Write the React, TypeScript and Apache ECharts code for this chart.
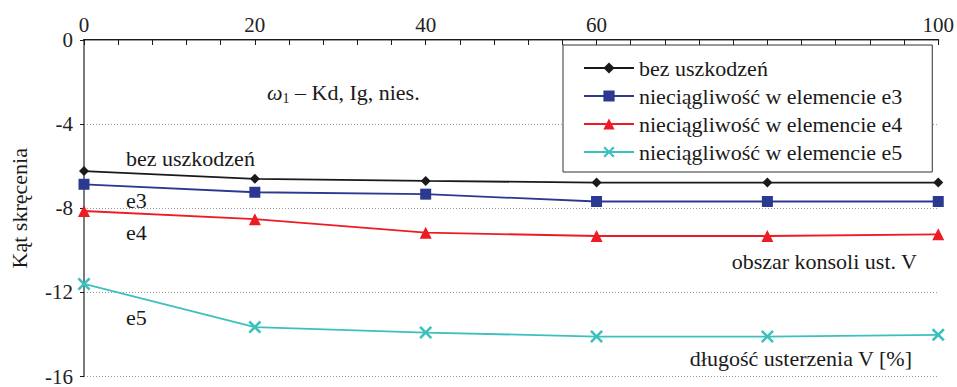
import React, { useEffect, useRef } from "react";
import * as echarts from "echarts";

const xValues = [0, 20, 40, 60, 80, 100];
const xTickLabels = ["0", "20", "40", "60", "", "100"];
const yTicks = [0, -4, -8, -12, -16];
const seriesNames = [
  "bez uszkodzeń",
  "nieciągliwość w elemencie e3",
  "nieciągliwość w elemencie e4",
  "nieciągliwość w elemencie e5",
];
const bezUszkodzen = [-6.23, -6.6, -6.7, -6.78, -6.78, -6.78];
const e3 = [-6.86, -7.24, -7.33, -7.68, -7.68, -7.68];
const e4 = [-8.13, -8.52, -9.16, -9.32, -9.32, -9.24];
const e5 = [-11.6, -13.65, -13.91, -14.1, -14.1, -14.02];

const FONT = "'Liberation Serif', 'DejaVu Serif', serif";
const X_SYMBOL =
  "path://M0,1.4L1.4,0L5,3.6L8.6,0L10,1.4L6.4,5L10,8.6L8.6,10L5,6.4L1.4,10L0,8.6L3.6,5Z";

const txt = (x: number, y: number, text: string, size = 22, align: "left" | "right" = "left") => ({
  type: "text",
  x,
  y,
  style: {
    text,
    fontFamily: FONT,
    fontSize: size,
    fill: "#1a1a1a",
    align,
    verticalAlign: "middle",
  },
});

export default function App() {
  const ref = useRef<HTMLDivElement>(null);
  useEffect(() => {
    if (!ref.current) return;
    const chart = echarts.init(ref.current, undefined, { renderer: "svg" });
    const mk = (vals: number[]) => xValues.map((x, i) => [x, vals[i]]);
    const colors = ["#1a1a1a", "#2b3990", "#ed1c24", "#3cc0bd"];
    const symbols = ["diamond", "rect", "triangle", X_SYMBOL];
    const sizes = [10, 11, 12, 13];
    const datas = [bezUszkodzen, e3, e4, e5];
    chart.setOption({
      animation: false,
      textStyle: { fontFamily: FONT },
      grid: { left: 82, right: 18, top: 40, bottom: 10 },
      legend: {
        orient: "vertical",
        left: 563,
        top: 45,
        padding: [12, 30, 9, 20],
        itemGap: 6,
        itemWidth: 50,
        itemHeight: 14,
        borderColor: "#333",
        borderWidth: 1,
        backgroundColor: "#fff",
        textStyle: { fontSize: 22, lineHeight: 20, color: "#1a1a1a", fontFamily: FONT },
        data: seriesNames,
      },
      xAxis: [
        {
          type: "value",
          position: "top",
          min: 0,
          max: 100,
          interval: 20,
          axisLine: { lineStyle: { color: "#1a1a1a", width: 2 } },
          axisTick: { inside: true, length: 5, lineStyle: { color: "#1a1a1a" } },
          minorTick: { show: true, splitNumber: 5, length: 5, lineStyle: { color: "#1a1a1a" } },
          axisLabel: {
            fontSize: 21,
            color: "#222",
            fontFamily: FONT,
            margin: 5,
            formatter: (v: number) => xTickLabels[xValues.indexOf(v)] ?? "",
          },
          splitLine: { show: false },
        },
        {
          type: "value",
          position: "bottom",
          min: 0,
          max: 100,
          axisLine: { lineStyle: { color: "#999", width: 1 } },
          axisTick: { show: false },
          axisLabel: { show: false },
          splitLine: { show: false },
        },
      ],
      yAxis: [
        {
          type: "value",
          min: -16,
          max: 0,
          interval: 4,
          axisLine: { show: true, lineStyle: { color: "#1a1a1a", width: 1.5 } },
          axisTick: { show: true, length: 4, lineStyle: { color: "#1a1a1a" } },
          axisLabel: {
            fontSize: 21,
            color: "#222",
            fontFamily: FONT,
            margin: 11,
            formatter: (v: number) => (yTicks.includes(v) ? String(v) : ""),
          },
          splitLine: { show: true, lineStyle: { color: "#999", type: [1, 2], width: 1 } },
          name: "Kąt skręcenia",
          nameLocation: "middle",
          nameGap: 54,
          nameTextStyle: { fontSize: 22, color: "#1a1a1a", fontFamily: FONT },
        },
        {
          type: "value",
          position: "right",
          min: -16,
          max: 0,
          axisLine: { show: true, lineStyle: { color: "#888", width: 1.5 } },
          axisTick: { show: false },
          axisLabel: { show: false },
          splitLine: { show: false },
        },
      ],
      series: datas.map((d, i) => ({
        name: seriesNames[i],
        type: "line",
        data: mk(d),
        symbol: symbols[i],
        symbolSize: sizes[i],
        showSymbol: true,
        lineStyle: { color: colors[i], width: 1.8 },
        itemStyle: { color: colors[i] },
        z: 5,
      })),
      graphic: [
        {
          type: "text",
          x: 267,
          y: 92,
          style: {
            text: "{i|ω}{sub|1} – Kd, Ig, nies.",
            fontFamily: FONT,
            fontSize: 22,
            fill: "#1a1a1a",
            verticalAlign: "middle",
            rich: {
              i: { fontStyle: "italic", fontSize: 22, fontFamily: FONT, fill: "#1a1a1a" },
              sub: { fontSize: 14, fontFamily: FONT, fill: "#1a1a1a", padding: [12, 0, 0, 0] },
            },
          },
        },
        txt(126, 158, "bez uszkodzeń"),
        txt(126, 200, "e3"),
        txt(126, 232, "e4"),
        txt(126, 317, "e5"),
        txt(917, 261, "obszar konsoli ust. V", 22, "right"),
        txt(912, 358, "długość usterzenia V [%]", 22, "right"),
      ],
    });
    return () => chart.dispose();
  }, []);
  return <div ref={ref} style={{ width: 957, height: 387, position: "absolute", left: 0, top: 0 }} />;
}
